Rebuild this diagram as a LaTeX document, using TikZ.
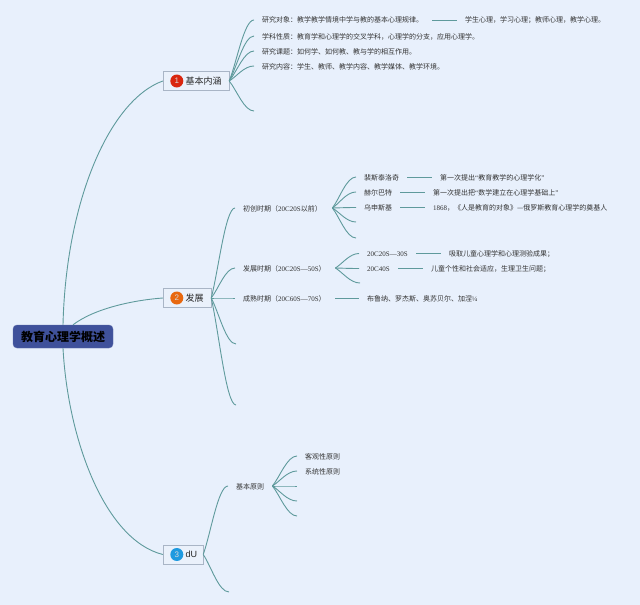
\documentclass[tikz,border=0pt]{standalone}
\usepackage{fontspec}
\setmainfont{Noto Sans CJK SC}
\newfontfamily\lat{Liberation Serif}
\newfontfamily\lsans{Liberation Sans}
\usetikzlibrary{calc}
\definecolor{bgc}{HTML}{E8F0FC}
\definecolor{linkc}{HTML}{5F9A9C}
\definecolor{rootc}{HTML}{3F519B}
\definecolor{boxc}{HTML}{EAF1FB}
\definecolor{boxb}{HTML}{A9B5C6}
\definecolor{txtc}{HTML}{333333}
\definecolor{badgea}{HTML}{D9260F}
\definecolor{badgeb}{HTML}{E8680F}
\definecolor{badgec}{HTML}{1E9AE0}
\tikzset{
  conn/.style={draw=linkc,line width=0.9pt},
  rootbox/.style={draw=rootc!85!white,fill=rootc,rounded corners=4pt,minimum width=100pt,minimum height=23pt,inner sep=0pt,font=\fontsize{12}{12}\selectfont\bfseries,text=black},
  branch/.style={draw=boxb,fill=boxc,minimum height=19pt,inner ysep=0pt,inner xsep=7.5pt,align=left,font=\fontsize{9}{10}\selectfont,text=black!85},
  badge/.style={circle,minimum size=13pt,inner sep=0pt,text=white!85!black,font=\fontsize{8}{8}\lsans},
  lab/.style={anchor=west,inner xsep=8pt,inner ysep=0pt,text height=6.8pt,text depth=0.8pt,align=left,font=\fontsize{7}{8}\selectfont,text=txtc},
}
\newcommand{\mmc}[2]{\draw[conn] (#1) .. controls ($(#1)!.3!(#2)$) and ($(#1 |- #2)!.6!(#2)$) .. (#2);}
\begin{document}
\begin{tikzpicture}[x=1pt,y=-1pt]
\fill[bgc] (0,0) rectangle (640,605);
\useasboundingbox (0,0) rectangle (640,605);
% root and main branches
\node[rootbox] (root) at (63,336.5) {教育心理学概述};
\node[branch,text width=51pt] (n1) at (196,81) {\hspace*{15pt}基本内涵};
\node[branch,text width=33pt] (n2) at (187,298) {\hspace*{15pt}发展};
\node[branch,text width=25pt] (n3) at (183,554.5) {\hspace*{15pt}{\lsans dU}};
\node[badge,fill=badgea] (b1) at ($(n1.west)+(14,0)$) {1};
\node[badge,fill=badgeb] (b2) at ($(n2.west)+(14,0)$) {2};
\node[badge,fill=badgec] (b3) at ($(n3.west)+(14,0)$) {3};
\draw[conn] (root.north) .. controls (66,200) and (110,100) .. (n1.west);
\draw[conn] ($(root.north)+(10,0)$) .. controls (95,308) and (135,300) .. (n2.west);
\draw[conn] (root.south) .. controls (68,440) and (105,540) .. (n3.west);
% branch 1
\node[lab,text width=159pt] (a1) at (254,20) {研究对象：教学教学情境中学与教的基本心理规律。};
\node[lab] (a1b) at (457,20) {学生心理，学习心理；教师心理，教学心理。};
\node[lab] (a2) at (254,36) {学科性质：教育学和心理学的交叉学科，心理学的分支，应用心理学。};
\node[lab] (a3) at (254,51) {研究课题：如何学、如何教、教与学的相互作用。};
\node[lab] (a4) at (254,66) {研究内容：学生、教师、教学内容、教学媒体、教学环境。};
\coordinate (a5) at (254,111);
\foreach \t in {a1.west,a2.west,a3.west,a4.west,a5}{\mmc{n1.east}{\t}}
\draw[conn] ($(a1b.west)+(-25,0)$) -- (a1b.west);
% branch 2
\node[lab,text width=81pt] (c1) at (235,208) {初创时期（{\lat 20C20S}以前）};
\node[lab,text width=84pt] (c2) at (235,268) {发展时期（{\lat 20C20S—50S}）};
\node[lab,text width=84pt] (c3) at (235,298) {成熟时期（{\lat 20C60S—70S}）};
\coordinate (c4) at (236,344);
\coordinate (c5) at (236,405);
\foreach \t in {c1.west,c2.west,c3.west,c4,c5}{\mmc{n2.east}{\t}}
% first period
\node[lab,text width=35pt] (d1) at (356,177) {裴斯泰洛奇};
\node[lab,text width=28pt] (d2) at (356,192) {赫尔巴特};
\node[lab,text width=28pt] (d3) at (356,207.5) {乌申斯基};
\coordinate (d4) at (356,222);
\coordinate (d5) at (356,238);
\foreach \t in {d1.west,d2.west,d3.west,d4,d5}{\mmc{c1.east}{\t}}
\node[lab] (e1) at (432,177) {第一次提出{\lat “}教育教学的心理学化{\lat ”}};
\node[lab] (e2) at (425,192) {第一次提出把{\lat “}数学建立在心理学基础上{\lat ”}};
\node[lab] (e3) at (425,207.5) {{\lat 1868}，《人是教育的对象》—俄罗斯教育心理学的奠基人};
\draw[conn] (d1.east) -- (e1.west);
\draw[conn] (d2.east) -- (e2.west);
\draw[conn] (d3.east) -- (e3.west);
% second period
\node[lab,text width=41pt] (f1) at (359,253.5) {\lat 20C20S—30S};
\node[lab,text width=23pt] (f2) at (359,268.5) {\lat 20C40S};
\coordinate (f3) at (360,283);
\foreach \t in {f1.west,f2.west,f3}{\mmc{c2.east}{\t}}
\node[lab] (g1) at (441,253.5) {吸取儿童心理学和心理测验成果；};
\node[lab] (g2) at (423,268.5) {儿童个性和社会适应，生理卫生问题；};
\draw[conn] (f1.east) -- (g1.west);
\draw[conn] (f2.east) -- (g2.west);
% third period
\node[lab] (h1) at (359,298) {布鲁纳、罗杰斯、奥苏贝尔、加涅{\lat ¼}};
\draw[conn] (c3.east) -- (h1.west);
% branch 3
\node[lab,text width=28pt] (p1) at (228,486) {基本原则};
\coordinate (p2) at (229,592);
\foreach \t in {p1.west,p2}{\mmc{n3.east}{\t}}
\node[lab] (q1) at (297,456) {客观性原则};
\node[lab] (q2) at (297,471) {系统性原则};
\coordinate (q3) at (297,486);
\coordinate (q4) at (297,501);
\coordinate (q5) at (297,516);
\foreach \t in {q1.west,q2.west,q3,q4,q5}{\mmc{p1.east}{\t}}
\end{tikzpicture}
\end{document}
